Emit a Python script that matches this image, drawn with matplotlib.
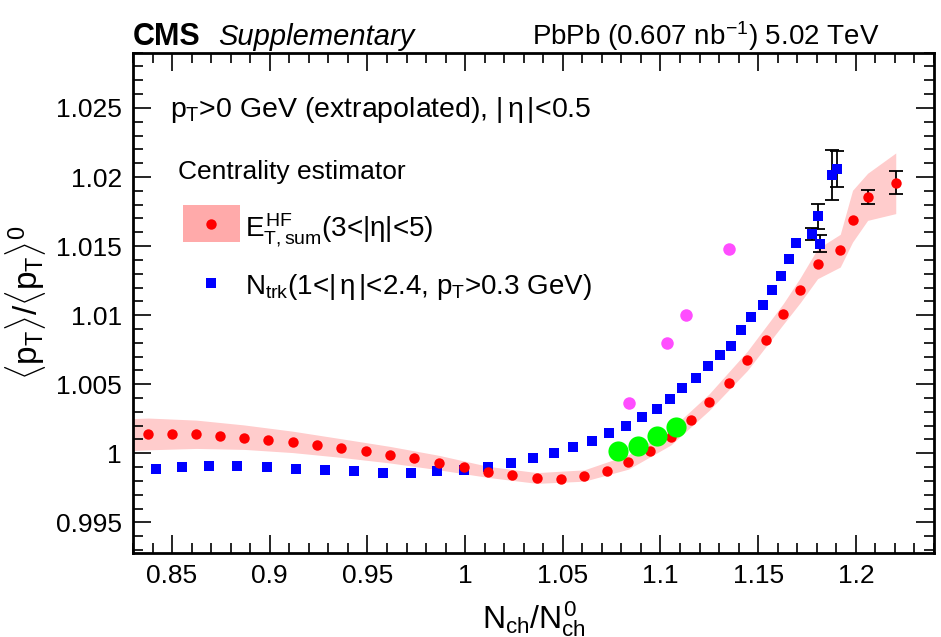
import matplotlib
matplotlib.use("Agg")
import numpy as np
import matplotlib.pyplot as plt
from matplotlib.patches import Rectangle

plt.rcParams['font.family'] = ['Liberation Sans', 'DejaVu Sans']
plt.rcParams['mathtext.fontset'] = 'custom'
plt.rcParams['mathtext.rm'] = 'Liberation Sans'
plt.rcParams['mathtext.it'] = 'Liberation Sans'
plt.rcParams['mathtext.bf'] = 'Liberation Sans:bold'

# E_T,sum^HF estimator (red points + pink systematic band)
red_x = [0.8379, 0.8500, 0.8624, 0.8745, 0.8869, 0.8992, 0.9117, 0.9241, 0.9367,
         0.9491, 0.9614, 0.9740, 0.9866, 0.9992, 1.0118, 1.0241, 1.0368, 1.0491,
         1.0610, 1.0726, 1.0836, 1.0947, 1.1053, 1.1155, 1.1249, 1.1351, 1.1445,
         1.1542, 1.1629, 1.1715, 1.1804, 1.1920, 1.1983, 1.2060, 1.2204]
red_y = [1.00141, 1.00136, 1.00136, 1.00128, 1.00114, 1.00097, 1.00080, 1.00061,
         1.00036, 1.00014, 0.99988, 0.99964, 0.99928, 0.99899, 0.99862, 0.99841,
         0.99819, 0.99814, 0.99838, 0.99870, 0.99935, 1.00014, 1.00116, 1.00244,
         1.00370, 1.00512, 1.00672, 1.00817, 1.01010, 1.01179, 1.01370, 1.01469,
         1.01686, 1.01853, 1.01957]
red_err = [0] * 33 + [0.0005, 0.00083]

band_x = [0.830, 0.8379, 0.8624, 0.8869, 0.9117, 0.9367, 0.9614, 0.9866, 1.0118,
          1.0368, 1.0610, 1.0836, 1.1053, 1.1249, 1.1445, 1.1629, 1.1715, 1.1804,
          1.1920, 1.1983, 1.2060, 1.2204]
band_lo = [1.00020, 1.00025, 1.00035, 1.00028, 1.00005, 0.99970, 0.99930, 0.99880,
           0.99825, 0.99782, 0.99798, 0.99885, 1.00060, 1.00310, 1.00600, 1.00935,
           1.01090, 1.01264, 1.01348, 1.01529, 1.01686, 1.01735]
band_hi = [1.00251, 1.00255, 1.00240, 1.00205, 1.00160, 1.00105, 1.00050, 0.99985,
           0.99905, 0.99860, 0.99880, 0.99990, 1.00175, 1.00430, 1.00740, 1.01085,
           1.01270, 1.01481, 1.01585, 1.01904, 1.02027, 1.02174]

# N_trk estimator (blue squares)
blue_x = [0.8418, 0.8551, 0.8689, 0.8833, 0.8984, 0.9133, 0.9283, 0.9431, 0.9579,
          0.9721, 0.9857, 0.9992, 1.0116, 1.0236, 1.0346, 1.0453, 1.0554, 1.0649,
          1.0738, 1.0823, 1.0903, 1.0980, 1.1050, 1.1112, 1.1181, 1.1244, 1.1304,
          1.1363, 1.1414, 1.1465, 1.1526, 1.1572, 1.1618, 1.1658, 1.1695, 1.1777,
          1.1807, 1.1815, 1.1876, 1.1901]
blue_y = [0.99887, 0.99899, 0.99911, 0.99906, 0.99899, 0.99884, 0.99880, 0.99872,
          0.99860, 0.99860, 0.99872, 0.99880, 0.99901, 0.99933, 0.99964, 1.00003,
          1.00043, 1.00087, 1.00148, 1.00201, 1.00261, 1.00322, 1.00394, 1.00474,
          1.00546, 1.00630, 1.00713, 1.00780, 1.00889, 1.00986, 1.01070, 1.01179,
          1.01280, 1.01406, 1.01522, 1.01590, 1.01715, 1.01517, 1.02017, 1.02061]
blue_err = [0] * 35 + [0.00043, 0.0009, 0.0006, 0.0018, 0.0013]

# extra points
magenta_x = [1.0837, 1.1033, 1.1133, 1.1351]
magenta_y = [1.00365, 1.00800, 1.00998, 1.01476]
green_x = [1.0780, 1.0886, 1.0980, 1.1079]
green_y = [1.00014, 1.00056, 1.00128, 1.00188]

fig = plt.figure(figsize=(9.41, 6.37), dpi=100)
ax = fig.add_axes([0.1413, 0.1323, 0.8513, 0.785])

ax.fill_between(band_x, band_lo, band_hi, color='#ffcccc', lw=0, zorder=1)

rx, ry, re = np.array(red_x), np.array(red_y), np.array(red_err)
bx, by, be = np.array(blue_x), np.array(blue_y), np.array(blue_err)
m = re > 0
ax.errorbar(rx[m], ry[m], yerr=re[m], fmt='none', ecolor='black', elinewidth=1.3,
            capsize=5, capthick=1.3, zorder=2)
m = be > 0
ax.errorbar(bx[m], by[m], yerr=be[m], fmt='none', ecolor='black', elinewidth=1.3,
            capsize=5, capthick=1.3, zorder=2)

ax.plot(bx, by, 's', color='#0000ff', ms=7.5, mew=0, zorder=3)
ax.plot(rx, ry, 'o', color='#ff0000', ms=7.5, mew=0, zorder=4)
ax.plot(magenta_x, magenta_y, 'o', color='#ff4dff', ms=9, mew=0, zorder=5)
ax.plot(green_x, green_y, 'o', color='#00ff00', ms=14.5, mew=0, zorder=5)

ax.set_xlim(0.83, 1.24)
ax.set_ylim(0.9928, 1.029)
ax.set_xticks(np.arange(0.85, 1.2001, 0.05))
ax.set_xticklabels(['0.85', '0.9', '0.95', '1', '1.05', '1.1', '1.15', '1.2'])
ax.set_xticks(np.arange(0.83, 1.2401, 0.01), minor=True)
ax.set_yticks(np.arange(0.995, 1.02501, 0.005))
ax.set_yticklabels(['0.995', '1', '1.005', '1.01', '1.015', '1.02', '1.025'])
ax.set_yticks(np.arange(0.993, 1.0291, 0.001), minor=True)
ax.tick_params(which='both', direction='in', top=True, right=True, labelsize=19, width=1.2)
ax.tick_params(which='major', length=13, pad=8)
ax.tick_params(which='minor', length=7)
for s in ax.spines.values():
    s.set_linewidth(2)

ax.set_xlabel(r'$N_{ch}/N_{ch}^{0}$', fontsize=23, labelpad=8)
ax.set_ylabel(r'$\langle p_{T}\rangle/\langle p_{T}\rangle^{0}$', fontsize=24, labelpad=6)

fig.text(0.1413, 0.930, 'CMS', fontsize=22, fontweight='bold', ha='left', va='baseline')
fig.text(0.2317, 0.930, 'Supplementary', fontsize=21, fontstyle='italic', ha='left', va='baseline')
fig.text(0.935, 0.930, r'PbPb (0.607 nb$^{-1}$) 5.02 TeV', fontsize=20, ha='right', va='baseline')

ax.text(0.046, 0.872, r'$p_{T}$>0 GeV (extrapolated), $|\,\eta\,|$<0.5', transform=ax.transAxes,
        fontsize=20.5, ha='left', va='baseline')
ax.text(0.056, 0.748, 'Centrality estimator', transform=ax.transAxes,
        fontsize=19, ha='left', va='baseline')
ax.add_patch(Rectangle((0.0624, 0.621), 0.0712, 0.074, transform=ax.transAxes,
                       color='#ffaaaa', lw=0))
ax.plot([0.0974], [0.657], 'o', color='#ff0000', ms=7.5, mew=0, transform=ax.transAxes)
ax.text(0.14, 0.632, r'$E_{T,sum}^{HF}$(3<$|\eta|$<5)', transform=ax.transAxes,
        fontsize=20, ha='left', va='baseline')
ax.plot([0.0974], [0.539], 's', color='#0000ff', ms=7.5, mew=0, transform=ax.transAxes)
ax.text(0.14, 0.518, r'$N_{trk}$(1<$|\,\eta\,|$<2.4, $p_{T}$>0.3 GeV)', transform=ax.transAxes,
        fontsize=20, ha='left', va='baseline')

fig.savefig('out.png', dpi=100)
